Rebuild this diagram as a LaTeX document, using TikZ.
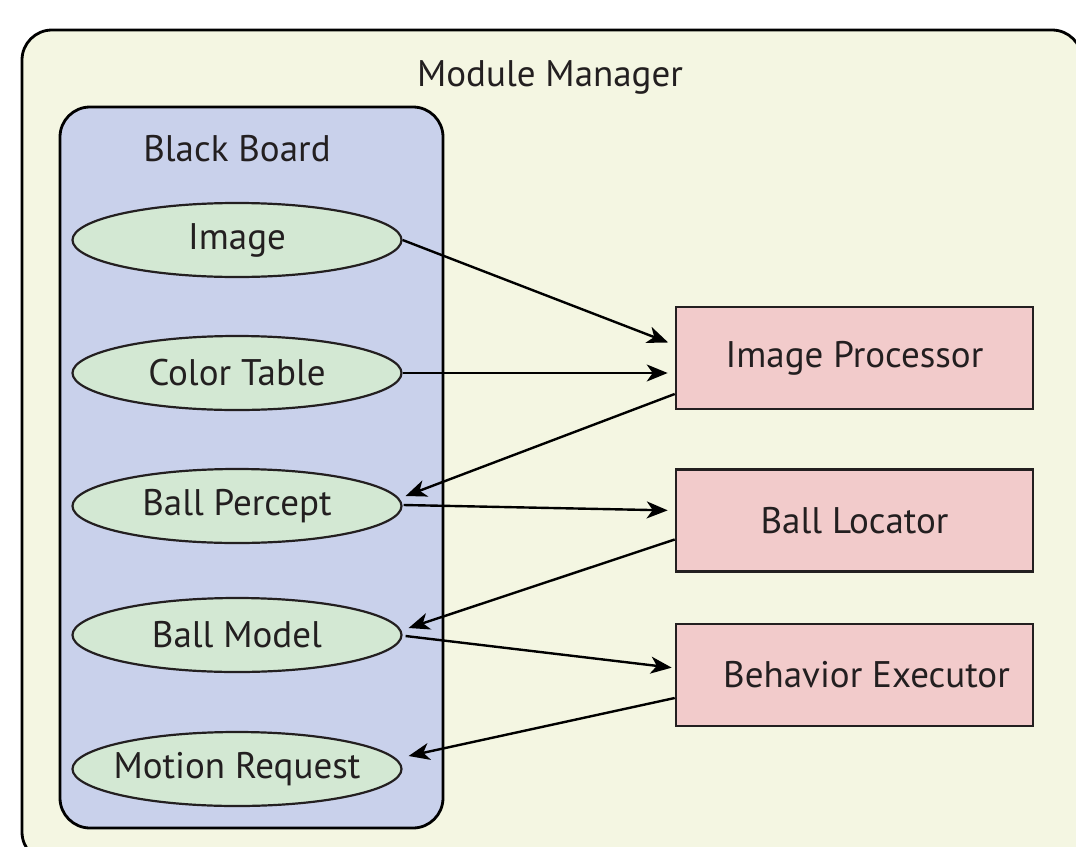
\documentclass[tikz,border=0pt]{standalone}
\usepackage{fontspec}
\setmainfont{PT Sans}
\usetikzlibrary{arrows.meta,shapes.geometric,calc}
\definecolor{mgrfill}{HTML}{F4F6E2}
\definecolor{bbfill}{HTML}{C9D1EB}
\definecolor{itemfill}{HTML}{D3E8D3}
\definecolor{modfill}{HTML}{F2CBCB}
\definecolor{ink}{HTML}{231F20}
% keep the ellipse at its fixed size whatever the label width
\newcommand{\entrytext}[1]{\makebox[0pt]{#1}}
\tikzset{
  lbl/.style={font=\fontsize{37}{40}\selectfont, text=ink},
  container/.style={draw=black, line width=2.8pt, rounded corners=30pt},
  item/.style={ellipse, draw=ink, line width=2.2pt, fill=itemfill,
    minimum width=329pt, minimum height=74pt, inner sep=0pt, lbl},
  module/.style={rectangle, draw=ink, line width=2.6pt, fill=modfill,
    minimum width=357pt, minimum height=102pt, inner sep=0pt, lbl},
  flow/.style={draw=black, line width=2.4pt,
    -{Stealth[length=21pt, width=17pt, inset=6pt]}},
}
\begin{document}
\begin{tikzpicture}[x=1pt, y=-1pt]
  \useasboundingbox (0,0) rectangle (1076,846);
  \clip (0,0) rectangle (1076,846);
  % containers
  \draw[container, fill=mgrfill] (22,30) rectangle (1082,862);
  \node[lbl] (mgr) at (550,77) {Module Manager};
  \draw[container, fill=bbfill] (60,107) rectangle (443,828);
  \node[lbl] (bb) at (237,149) {Black Board};
  % blackboard entries
  \node[item] (img) at (237,240) {\entrytext{Image}};
  \node[item] (ct)  at (237,373) {\entrytext{Color Table}};
  \node[item] (bp)  at (237,506) {\entrytext{Ball Percept}};
  \node[item] (bm)  at (237,635) {\entrytext{Ball Model}};
  \node[item] (mr)  at (237,769) {\entrytext{Motion Request}};
  % modules
  \node[module] (ip) at (854.5,358) {Image Processor};
  \node[module] (bl) at (854.5,520.5) {Ball Locator};
  \node[module] (be) at (854.5,675) {\hspace*{24pt}Behavior Executor};
  % data flow
  \draw[flow, shorten >=7pt] (img.east) -- ([yshift=13pt]ip.west);
  \draw[flow, shorten >=7pt] (ct.east) -- (ct.east -| ip.west);
  \draw[flow] ([yshift=-36pt]ip.west) -- ($(bp.east)+(3,-10)$);
  \draw[flow, shorten >=7pt] ($(bp.east)+(1,-1)$) -- ([yshift=10pt]bl.west);
  \draw[flow] ([yshift=-19pt]bl.west) -- ($(bm.east)+(6,-7)$);
  \draw[flow, shorten >=3pt] ($(bm.east)+(3,1)$) -- ([yshift=7pt]be.west);
  \draw[flow] ([yshift=-23pt]be.west) -- ($(mr.east)+(6,-13)$);
\end{tikzpicture}
\end{document}
